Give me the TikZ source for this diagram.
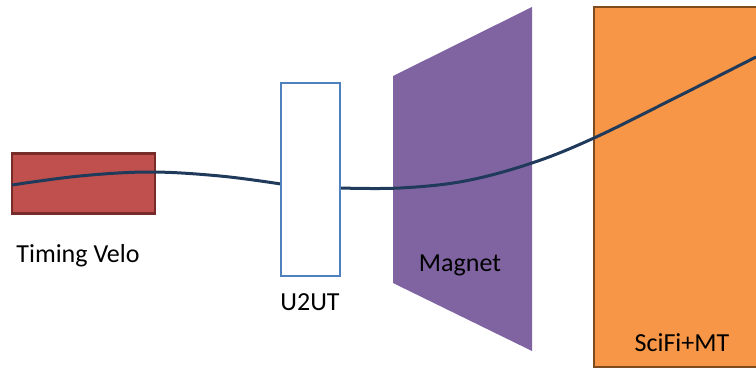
\documentclass[tikz,border=0pt]{standalone}
\usepackage{fontspec}
\setmainfont{Carlito}
\definecolor{velofill}{HTML}{C0504D}
\definecolor{velodraw}{HTML}{772C2A}
\definecolor{utdraw}{HTML}{4F81BD}
\definecolor{magfill}{HTML}{8064A2}
\definecolor{scififill}{HTML}{F79646}
\definecolor{scifidraw}{HTML}{7F4A1C}
\definecolor{trackcol}{HTML}{1F3A5A}
\tikzset{
  box/.style={rectangle, inner sep=0pt, line width=2.6pt},
  lbl/.style={font=\fontsize{26}{30}\selectfont, text=black, inner sep=0pt},
  track/.style={trackcol, line width=3pt}
}
\begin{document}
\begin{tikzpicture}[x=1pt,y=-1pt]
\useasboundingbox (0,0) rectangle (756,369);
% SciFi box (extends beyond right edge)
\fill[scififill] (594,7) rectangle (770,367);
\draw[scifidraw, line width=2.6pt] (770,7) -- (594,7) -- (594,367) -- (770,367);
\coordinate (scifi) at (594,7);
% Magnet
\fill[magfill] (393,76) -- (532,7) -- (532,351) -- (393,283) -- cycle;
\coordinate (magnet) at (462,179);
% Velo
\node[box, fill=velofill, draw=velodraw, minimum width=143pt, minimum height=60pt] (velo) at (83.5,183.5) {};
% Tracks
\draw[track] plot[smooth, tension=0.6] coordinates {(12,185) (80,176) (150,172) (220,176) (281,184)};
\draw[track] plot[smooth, tension=0.6] coordinates {(340,188) (400,188) (465,181) (532,163) (594,138) (675,98) (756,57)};
% U2UT
\node[box, fill=white, draw=utdraw, minimum width=59pt, minimum height=193pt] (ut) at (310.5,179.5) {};
% Labels
\node[lbl] (velolbl) at (78,256) {Timing Velo};
\node[lbl] (utlbl) at (310,302) {U2UT};
\node[lbl] (maglbl) at (460,265) {Magnet};
\node[lbl] (scifilbl) at (682,343) {SciFi+MT};
\end{tikzpicture}
\end{document}
